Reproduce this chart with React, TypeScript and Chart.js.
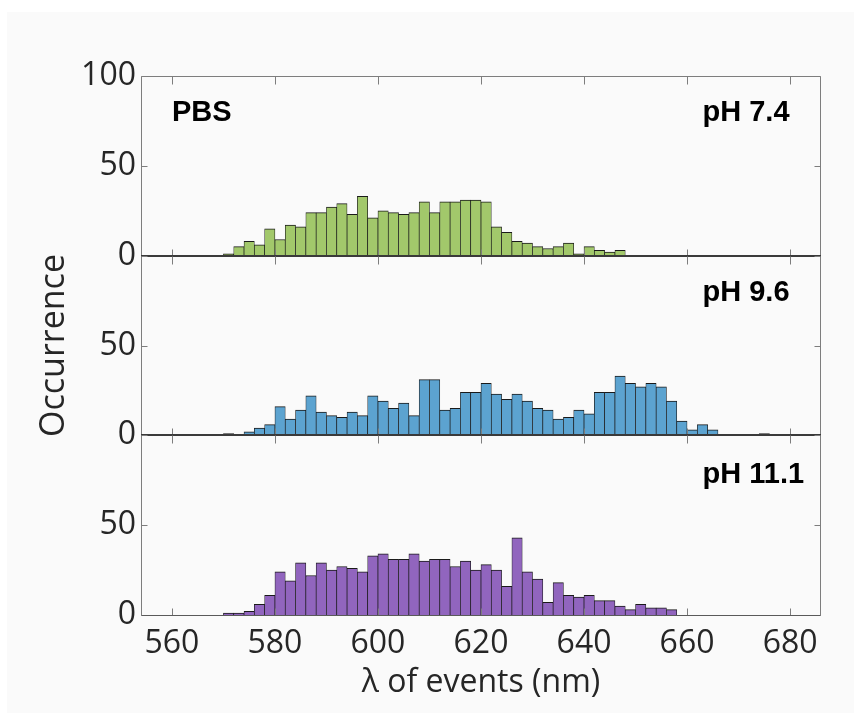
import React, { useEffect, useRef } from 'react';
import { Chart, registerables } from 'chart.js';

Chart.register(...registerables);

// Histogram bin centres (bin width 2 nm, first bin 570–572 nm)
const binCenters = [
  571, 573, 575, 577, 579, 581, 583, 585, 587, 589, 591, 593, 595, 597, 599, 601, 603, 605,
  607, 609, 611, 613, 615, 617, 619, 621, 623, 625, 627, 629, 631, 633, 635, 637, 639, 641,
  643, 645, 647, 649, 651, 653, 655, 657, 659, 661, 663, 665, 667, 669, 671, 673, 675,
];

// Occurrence per bin
const ph74Counts = [
  1, 5, 8, 6, 15, 9, 17, 16, 24, 24, 27, 29, 23, 33, 21, 25, 24, 23, 24, 30, 24, 30, 30, 31,
  31, 30, 16, 13, 8, 7, 5, 4, 5, 7, 1, 5, 3, 2, 3,
];
const ph96Counts = [
  1, 0, 2, 4, 6, 16, 9, 14, 22, 13, 11, 10, 13, 11, 22, 19, 15, 18, 11, 31, 31, 14, 15, 24,
  24, 29, 23, 20, 23, 19, 15, 14, 9, 10, 14, 12, 24, 24, 33, 29, 27, 29, 27, 19, 8, 3, 6, 3,
  0, 0, 0, 0, 1,
];
const ph111Counts = [
  1, 1, 2, 6, 11, 24, 19, 29, 22, 29, 25, 27, 26, 24, 33, 34, 31, 31, 34, 30, 31, 31, 27, 30,
  25, 28, 25, 16, 43, 24, 20, 7, 18, 11, 10, 11, 8, 8, 5, 3, 6, 4, 4, 3,
];

const xTickValues = [560, 580, 600, 620, 640, 660, 680];
const yTickValuesTop = [0, 50, 100];
const yTickValuesLower = [0, 50];
const yTickMarks = [0, 50, 100];
const panelLabels = ['pH 7.4', 'pH 9.6', 'pH 11.1'];
const cornerLabel = 'PBS';
const xTitle = 'λ of events (nm)';
const yTitle = 'Occurrence';

const X_MIN = 554;
const X_MAX = 686;

const TEXT = '#262626';
const FONT = "'Open Sans', 'Noto Sans', sans-serif";

const panels = [
  { id: 'yA', counts: ph74Counts, color: '#a2c86b', label: panelLabels[0], ticks: yTickValuesTop, weight: 3, labelValue: 75 },
  { id: 'yB', counts: ph96Counts, color: '#5ca3d0', label: panelLabels[1], ticks: yTickValuesLower, weight: 2, labelValue: 74.5 },
  { id: 'yC', counts: ph111Counts, color: '#9165be', label: panelLabels[2], ticks: yTickValuesLower, weight: 1, labelValue: 73.5 },
];

const framePlugin = {
  id: 'frame',
  beforeDraw(chart: any) {
    const ctx = chart.ctx;
    ctx.save();
    ctx.fillStyle = '#ffffff';
    ctx.fillRect(0, 0, chart.width, chart.height);
    ctx.fillStyle = '#fafafa';
    ctx.fillRect(7, 12, 847, 701);
    ctx.restore();
  },
  afterDatasetsDraw(chart: any) {
    const ctx = chart.ctx;
    const { left, right } = chart.chartArea;
    const xs = chart.scales.x;
    const L = Math.round(left) + 0.5;
    const R = Math.round(right) - 0.5;
    const line = (x1: number, y1: number, x2: number, y2: number) => {
      ctx.beginPath();
      ctx.moveTo(x1, y1);
      ctx.lineTo(x2, y2);
      ctx.stroke();
    };
    ctx.save();
    panels.forEach((p, i) => {
      const ys = chart.scales[p.id];
      const T = Math.round(ys.top) + 0.5;
      const B = Math.round(ys.bottom) + 0.5;
      ctx.strokeStyle = '#7d7d7d';
      ctx.lineWidth = 1;
      line(L, T, L, B);
      line(R, T, R, B);
      if (i === 0) line(L, T, R, T);
      xTickValues.forEach((v) => {
        const px = Math.round(xs.getPixelForValue(v)) + 0.5;
        line(px, T, px, T + 8);
        line(px, B, px, B - 7);
      });
      yTickMarks.forEach((v) => {
        const py = Math.round(ys.getPixelForValue(v)) + 0.5;
        line(L, py, L + 6, py);
        line(R, py, R - 6, py);
      });
      if (i < panels.length - 1) {
        ctx.strokeStyle = '#3a3a3a';
        ctx.lineWidth = 2;
        const y0 = Math.round(ys.getPixelForValue(0));
        line(L - 0.5, y0, R + 0.5, y0);
      } else {
        ctx.strokeStyle = '#5a5a5a';
        ctx.lineWidth = 1;
        line(L, B, R, B);
      }
    });
    ctx.restore();
  },
  afterDraw(chart: any) {
    const ctx = chart.ctx;
    const xs = chart.scales.x;
    ctx.save();
    ctx.fillStyle = '#000000';
    ctx.font = "bold 29px 'Liberation Sans', Arial, sans-serif";
    ctx.textBaseline = 'alphabetic';
    ctx.textAlign = 'left';
    const top = chart.scales[panels[0].id];
    ctx.fillText(cornerLabel, xs.getPixelForValue(560), top.getPixelForValue(panels[0].labelValue));
    panels.forEach((p) => {
      const ys = chart.scales[p.id];
      ctx.fillText(p.label, xs.getPixelForValue(663), ys.getPixelForValue(p.labelValue));
    });
    ctx.restore();
  },
};

export default function App() {
  const ref = useRef<HTMLCanvasElement>(null);

  useEffect(() => {
    const canvas = ref.current;
    if (!canvas) return;

    const scales: any = {
      x: {
        type: 'linear',
        position: 'bottom',
        min: X_MIN,
        max: X_MAX,
        offset: false,
        grid: { display: false, drawTicks: false },
        border: { display: false },
        afterBuildTicks: (s: any) => {
          s.ticks = xTickValues.map((v) => ({ value: v }));
        },
        afterFit: (s: any) => {
          s.height = 105;
        },
        ticks: {
          font: { family: FONT, size: 32 },
          color: TEXT,
          padding: 10,
          maxRotation: 0,
          autoSkip: false,
        },
        title: {
          display: true,
          text: xTitle,
          font: { family: FONT, size: 32 },
          color: TEXT,
          padding: { top: 0, bottom: 18 },
        },
      },
    };

    panels.forEach((p, i) => {
      scales[p.id] = {
        type: 'linear',
        position: 'left',
        stack: 'panels',
        stackWeight: 1,
        weight: p.weight,
        min: 0,
        max: 100,
        offset: false,
        grid: { display: false, drawTicks: false },
        border: { display: false },
        afterBuildTicks: (s: any) => {
          s.ticks = p.ticks.map((v) => ({ value: v }));
        },
        afterFit: (s: any) => {
          s.width = 141;
        },
        ticks: {
          font: { family: FONT, size: 32 },
          color: TEXT,
          padding: 5,
          autoSkip: false,
        },
        title: {
          display: i === 1,
          text: yTitle,
          font: { family: FONT, size: 34 },
          color: TEXT,
          padding: { top: 34, bottom: 0 },
        },
      };
    });

    const chart = new Chart(canvas, {
      type: 'bar',
      data: {
        datasets: panels.map((p) => ({
          label: p.label,
          yAxisID: p.id,
          xAxisID: 'x',
          data: p.counts.map((c, i) => ({ x: binCenters[i], y: c })),
          backgroundColor: p.color,
          borderColor: '#1a1a1a',
          borderWidth: { top: 1, left: 0.7, right: 0.7, bottom: 0 },
          borderSkipped: 'start',
          barPercentage: 1,
          categoryPercentage: 1,
          grouped: false,
        })),
      },
      options: {
        responsive: false,
        animation: false,
        events: [],
        layout: { padding: { left: 0, top: 76, right: 40, bottom: 0 } },
        plugins: {
          legend: { display: false },
          tooltip: { enabled: false },
          title: { display: false },
        },
        scales,
      },
      plugins: [framePlugin],
    } as any);

    return () => chart.destroy();
  }, []);

  return (
    <div style={{ position: 'absolute', left: 0, top: 0, width: 861, height: 720 }}>
      <canvas ref={ref} width={861} height={720} style={{ display: 'block', width: 861, height: 720 }} />
    </div>
  );
}
